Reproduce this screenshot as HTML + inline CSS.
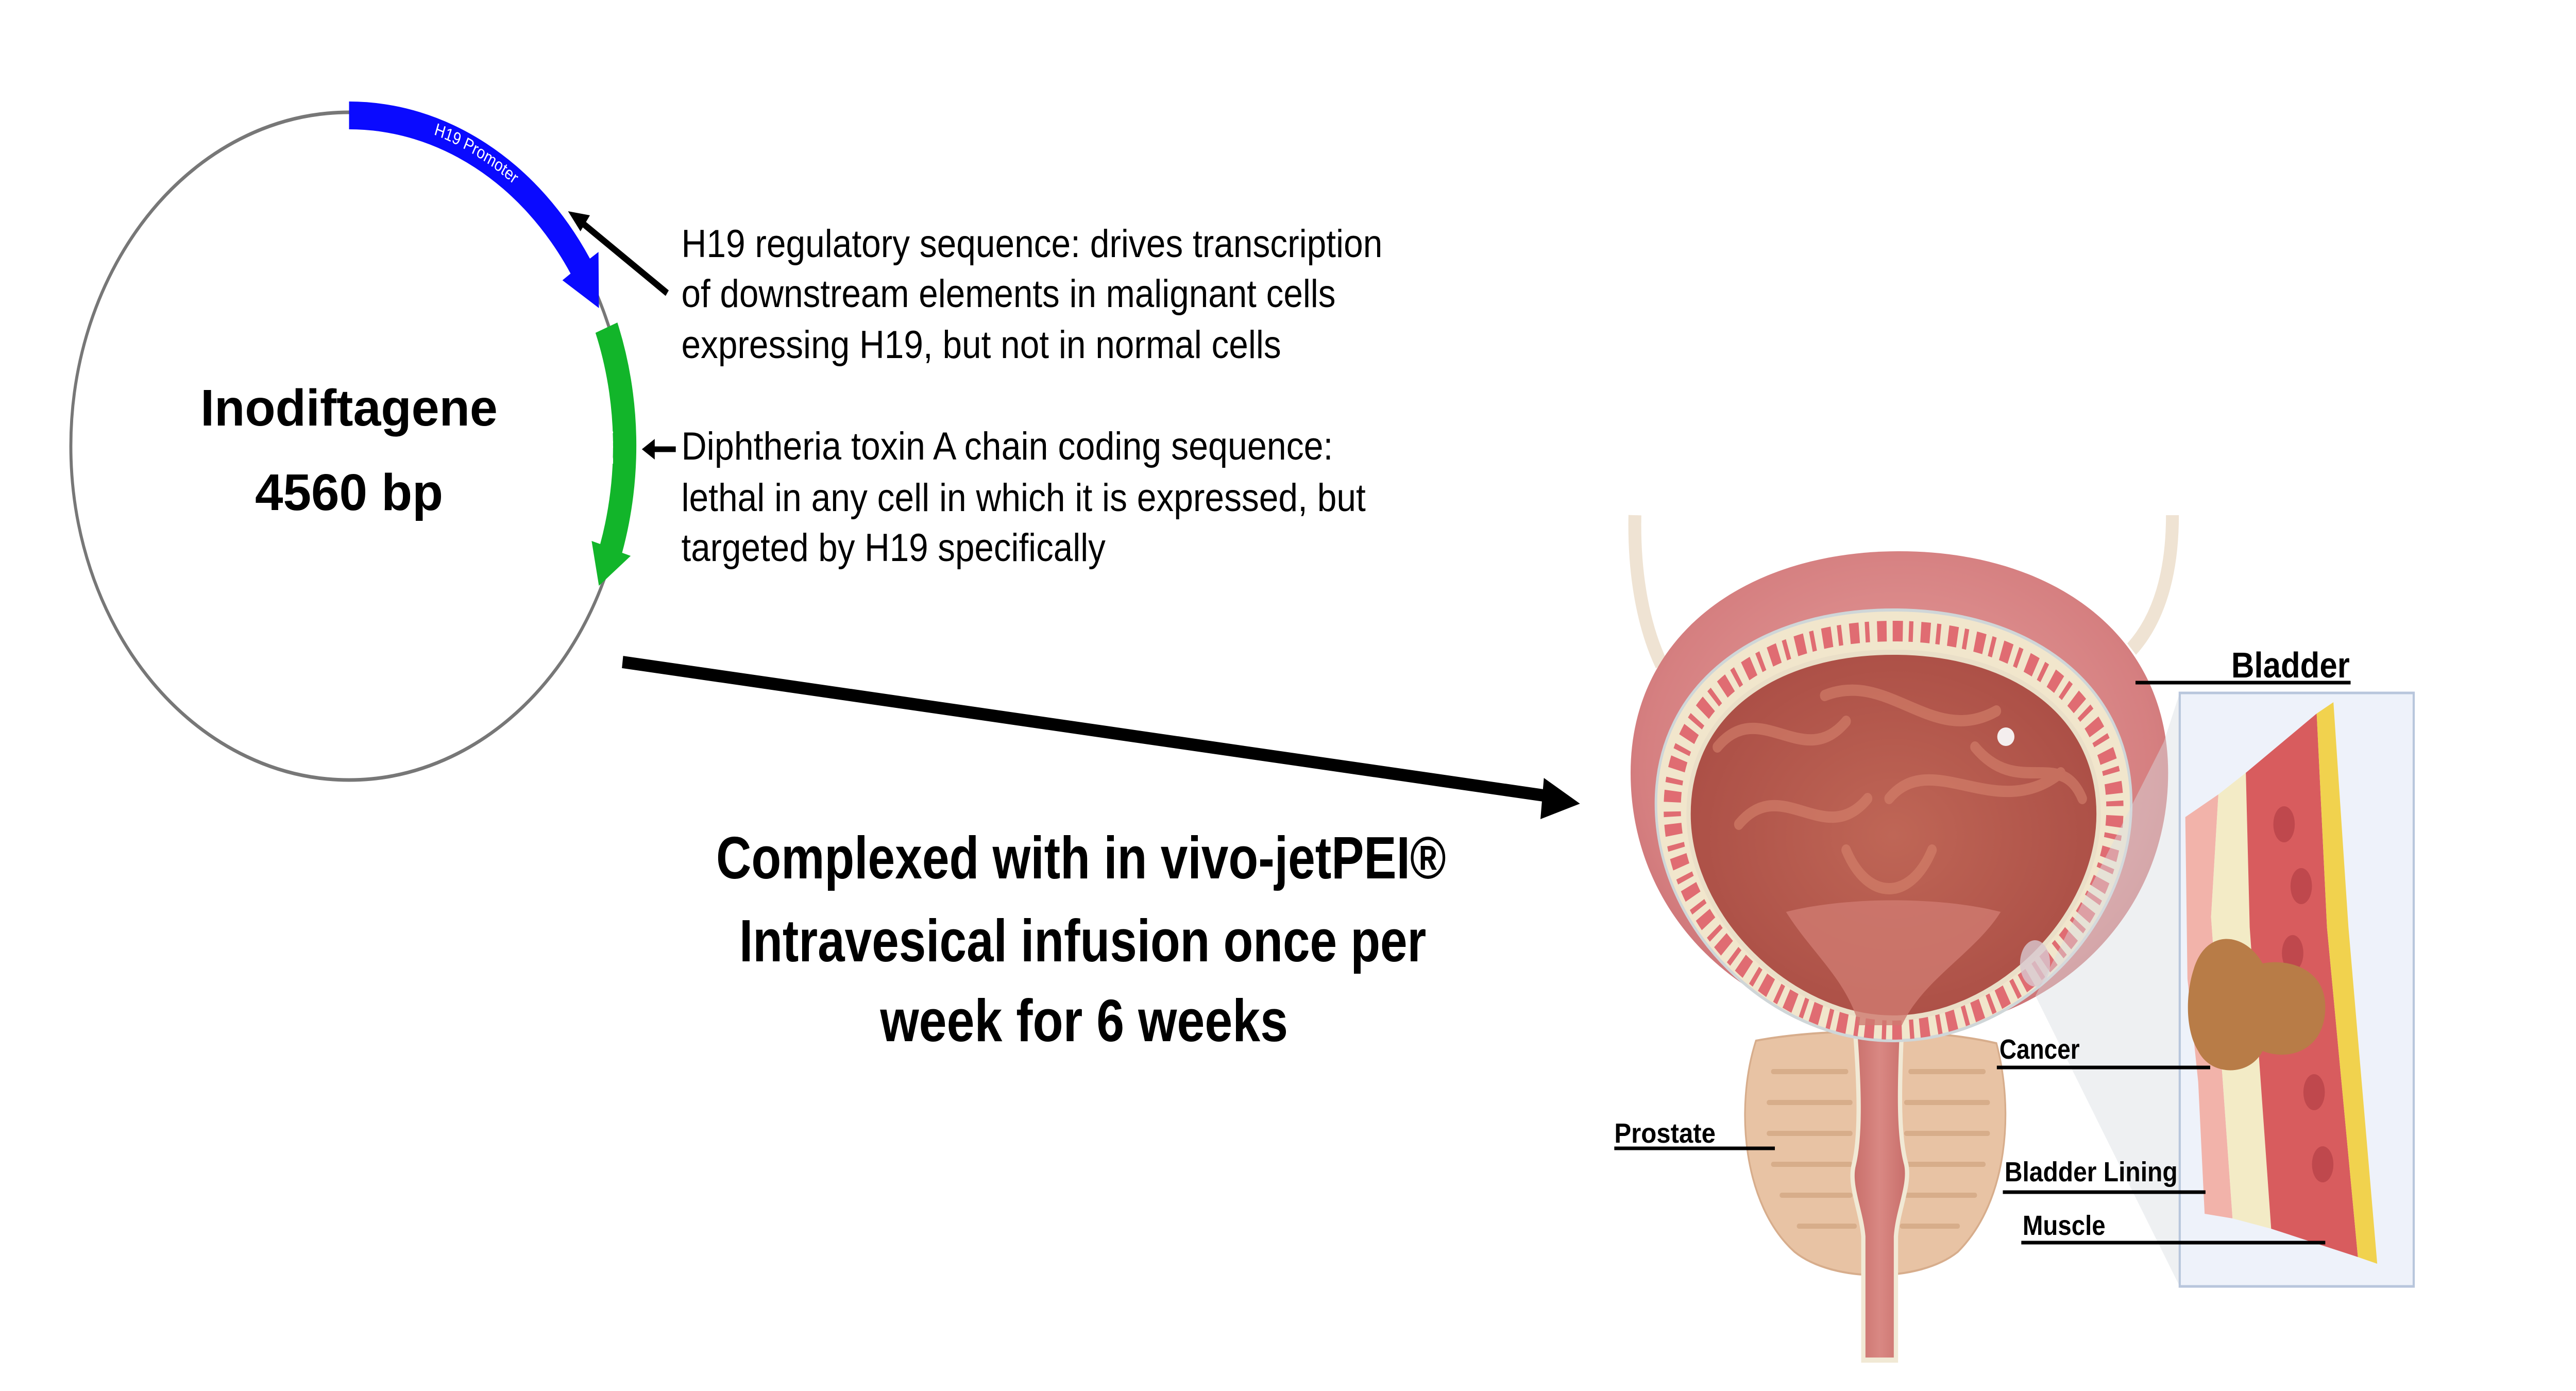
<!DOCTYPE html>
<html><head><meta charset="utf-8"><style>
html,body{margin:0;padding:0;background:#fff;width:100vw;height:100vh;overflow:hidden;}
svg{display:block;width:100vw;height:100vh;}
</style></head><body>
<svg viewBox="0 0 6000 2700" preserveAspectRatio="none" xmlns="http://www.w3.org/2000/svg">
<defs>
<radialGradient id="bl" cx="0.5" cy="0.45" r="0.6">
<stop offset="0" stop-color="#e7a2a0"/><stop offset="0.8" stop-color="#d57f80"/><stop offset="1" stop-color="#c86e72"/>
</radialGradient>
<radialGradient id="inn" cx="0.5" cy="0.5" r="0.6">
<stop offset="0" stop-color="#bf6656"/><stop offset="1" stop-color="#a94c44"/>
</radialGradient>
<linearGradient id="ur" x1="0" y1="0" x2="1" y2="0">
<stop offset="0" stop-color="#c86e6a"/><stop offset="0.5" stop-color="#d98883"/><stop offset="1" stop-color="#c86e6a"/>
</linearGradient>
<path id="blueArc" d="M 813 230 A 636 636 0 0 1 1360 540"/>
</defs>

<circle cx="813" cy="866" r="648" fill="none" stroke="#777" stroke-width="7"/>
<path d="M 813 197 A 669 669 0 0 1 1374 502 L 1394 489 L 1395 598 L 1310 544 L 1329 531 A 615 615 0 0 0 813 251 Z" fill="#0a0aff"/>
<text font-family="Liberation Sans, sans-serif" font-size="34" fill="#fff"><textPath href="#blueArc" startOffset="200">H19 Promoter</textPath></text>
<path d="M 1438 626 A 669 669 0 0 1 1449 1073 L 1469 1079 L 1395 1137 L 1378 1050 L 1398 1056 A 615 615 0 0 0 1387 646 Z" fill="#12b52a"/>
<text x="0" y="0" transform="translate(1428,870) rotate(-90)" text-anchor="middle" font-family="Liberation Sans, sans-serif" font-size="34" fill="#fff">DTA</text>

<text x="813" y="826" text-anchor="middle" font-family="Liberation Sans, sans-serif" font-weight="bold" font-size="100" textLength="692" lengthAdjust="spacingAndGlyphs">Inodiftagene</text>
<text x="813" y="990" text-anchor="middle" font-family="Liberation Sans, sans-serif" font-weight="bold" font-size="100" textLength="438" lengthAdjust="spacingAndGlyphs">4560 bp</text>

<line x1="1554" y1="569" x2="1345" y2="425" stroke="#000" stroke-width="13"/>
<polygon points="1323,410 1374,418 1352,449" fill="#000"/>
<line x1="1574" y1="872" x2="1520" y2="872" stroke="#000" stroke-width="11"/>
<polygon points="1495,872 1525,852 1525,892" fill="#000"/>

<g font-family="Liberation Sans, Arial, sans-serif" font-size="76" fill="#000">
<text x="1587" y="499" textLength="1633" lengthAdjust="spacingAndGlyphs">H19 regulatory sequence: drives transcription</text>
<text x="1587" y="596" textLength="1524" lengthAdjust="spacingAndGlyphs">of downstream elements in malignant cells</text>
<text x="1587" y="695" textLength="1397" lengthAdjust="spacingAndGlyphs">expressing H19, but not in normal cells</text>
<text x="1587" y="892" textLength="1518" lengthAdjust="spacingAndGlyphs">Diphtheria toxin A chain coding sequence:</text>
<text x="1587" y="992" textLength="1594" lengthAdjust="spacingAndGlyphs">lethal in any cell in which it is expressed, but</text>
<text x="1587" y="1089" textLength="988" lengthAdjust="spacingAndGlyphs">targeted by H19 specifically</text>
</g>

<line x1="1450" y1="1285" x2="3620" y2="1547" stroke="#000" stroke-width="24"/>
<polygon points="3680,1560 3596,1510 3588,1590" fill="#000"/>

<g font-family="Liberation Sans, sans-serif" font-weight="bold" font-size="116" fill="#000" text-anchor="middle">
<text x="2518" y="1705" textLength="1700" lengthAdjust="spacingAndGlyphs">Complexed with in vivo-jetPEI®</text>
<text x="2522" y="1866" textLength="1600" lengthAdjust="spacingAndGlyphs">Intravesical infusion once per</text>
<text x="2525" y="2021" textLength="950" lengthAdjust="spacingAndGlyphs">week for 6 weeks</text>
</g>

<path d="M 3808 1000 C 3805 1120 3830 1220 3870 1290" fill="none" stroke="#efe3d3" stroke-width="30"/>
<path d="M 5060 1000 C 5060 1110 5030 1200 4965 1260" fill="none" stroke="#efe3d3" stroke-width="30"/>
<path d="M 4090 2020 C 4250 1995 4500 1995 4650 2025 C 4690 2150 4680 2330 4560 2430 C 4470 2490 4270 2490 4180 2430 C 4060 2340 4040 2150 4090 2020 Z" fill="#e8c3a4" stroke="#d7ad8c" stroke-width="4"/>
<g stroke="#d4a884" stroke-width="10" stroke-linecap="round" opacity="0.8">
<line x1="4130" y1="2080" x2="4300" y2="2080"/><line x1="4450" y1="2080" x2="4620" y2="2080"/>
<line x1="4120" y1="2140" x2="4310" y2="2140"/><line x1="4440" y1="2140" x2="4630" y2="2140"/>
<line x1="4120" y1="2200" x2="4310" y2="2200"/><line x1="4440" y1="2200" x2="4630" y2="2200"/>
<line x1="4130" y1="2260" x2="4310" y2="2260"/><line x1="4440" y1="2260" x2="4620" y2="2260"/>
<line x1="4150" y1="2320" x2="4310" y2="2320"/><line x1="4440" y1="2320" x2="4600" y2="2320"/>
<line x1="4190" y1="2380" x2="4320" y2="2380"/><line x1="4430" y1="2380" x2="4560" y2="2380"/>
</g>
<path d="M 4320 1990 L 4430 1990 C 4425 2100 4420 2200 4440 2260 C 4450 2300 4420 2350 4416 2400 L 4416 2640 L 4340 2640 L 4340 2400 C 4335 2350 4305 2300 4318 2260 C 4335 2200 4330 2100 4320 1990 Z" fill="url(#ur)" stroke="#f1e9d5" stroke-width="10"/>
<path d="M 4424 1070 C 4780 1070 5050 1230 5050 1500 C 5050 1800 4750 2003 4424 2003 C 4100 2003 3798 1800 3798 1500 C 3798 1230 4070 1070 4424 1070 Z" fill="url(#bl)"/>
<path d="M 4410 1184 C 4730 1184 4964 1330 4964 1560 C 4964 1800 4700 2020 4410 2020 C 4120 2020 3857 1800 3857 1560 C 3857 1330 4090 1184 4410 1184 Z" fill="#f1e6cc" stroke="#cfd6d8" stroke-width="6"/>
<path d="M 4410 1225 C 4705 1225 4926 1355 4926 1570 C 4926 1790 4680 1998 4410 1998 C 4140 1998 3895 1790 3895 1570 C 3895 1355 4115 1225 4410 1225 Z" fill="none" stroke="#e06c72" stroke-width="40" stroke-dasharray="22 14 10 18"/>
<path d="M 4410 1266 C 4680 1266 4888 1380 4888 1580 C 4888 1780 4650 1976 4410 1976 C 4170 1976 3933 1780 3933 1580 C 3933 1380 4140 1266 4410 1266 Z" fill="url(#inn)" stroke="#eadfc8" stroke-width="10"/>
<g fill="none" stroke="#d98670" stroke-width="22" opacity="0.55" stroke-linecap="round">
<path d="M 4000 1450 C 4100 1350 4200 1500 4300 1400"/>
<path d="M 4250 1350 C 4400 1300 4500 1450 4650 1380"/>
<path d="M 4050 1600 C 4150 1500 4250 1650 4350 1550"/>
<path d="M 4400 1550 C 4500 1450 4650 1600 4800 1500"/>
<path d="M 4300 1650 C 4350 1750 4450 1750 4500 1650"/>
<path d="M 4600 1450 C 4700 1550 4800 1450 4850 1550"/>
</g>
<path d="M 4160 1770 C 4300 1740 4520 1740 4660 1770 C 4600 1850 4480 1900 4430 1990 L 4330 1990 C 4300 1900 4220 1850 4160 1770 Z" fill="#cf7b70" opacity="0.8"/>
<ellipse cx="4672" cy="1430" rx="20" ry="18" fill="#f4eeee"/>
<ellipse cx="4740" cy="1870" rx="35" ry="45" fill="#d8c8d0" opacity="0.8"/>

<polygon points="5040,1440 5077,1345 5077,2497 4741,1933" fill="#d9dde2" opacity="0.45"/>
<rect x="5077" y="1345" width="545" height="1152" fill="#eef2fa" stroke="#b8c6dc" stroke-width="5"/>
<polygon points="5090,1586 5167,1542 5150,1780 5200,2365 5135,2356 5120,2100 5095,1900" fill="#f2b3aa"/>
<polygon points="5167,1542 5231,1500 5240,1800 5290,2385 5200,2365 5150,1780" fill="#f3ebc6"/>
<polygon points="5231,1500 5396,1385 5420,1800 5492,2440 5290,2385 5240,1800" fill="#d85c5e"/>
<g fill="#b94448" opacity="0.8">
<ellipse cx="5320" cy="1600" rx="25" ry="35"/><ellipse cx="5360" cy="1720" rx="25" ry="35"/>
<ellipse cx="5340" cy="1850" rx="25" ry="35"/><ellipse cx="5380" cy="1980" rx="25" ry="35"/>
<ellipse cx="5390" cy="2120" rx="25" ry="35"/><ellipse cx="5410" cy="2260" rx="25" ry="35"/>
</g>
<polygon points="5396,1385 5435,1363 5470,1800 5537,2453 5492,2440 5420,1800" fill="#f1d24e"/>
<path d="M 5110 1880 C 5140 1800 5230 1810 5270 1870 C 5330 1860 5420 1880 5416 1960 C 5412 2040 5330 2060 5270 2040 C 5240 2090 5150 2090 5120 2040 C 5090 2000 5090 1930 5110 1880 Z" fill="#b87c47"/>

<g font-family="Liberation Sans, sans-serif" font-weight="bold" fill="#000">
<text x="5197" y="1315" font-size="70" textLength="276" lengthAdjust="spacingAndGlyphs">Bladder</text>
<text x="4657" y="2055" font-size="54" textLength="187" lengthAdjust="spacingAndGlyphs">Cancer</text>
<text x="3760" y="2218" font-size="54" textLength="236" lengthAdjust="spacingAndGlyphs">Prostate</text>
<text x="4669" y="2293" font-size="54" textLength="403" lengthAdjust="spacingAndGlyphs">Bladder Lining</text>
<text x="4711" y="2397" font-size="54" textLength="193" lengthAdjust="spacingAndGlyphs">Muscle</text>
</g>
<g stroke="#000" stroke-width="7">
<line x1="4974" y1="1325" x2="5475" y2="1325"/>
<line x1="4651" y1="2072" x2="5148" y2="2072"/>
<line x1="3760" y1="2229" x2="4134" y2="2229"/>
<line x1="4665" y1="2314" x2="5137" y2="2314"/>
<line x1="4708" y1="2412" x2="5416" y2="2412"/>
</g>
</svg>
</body></html>
